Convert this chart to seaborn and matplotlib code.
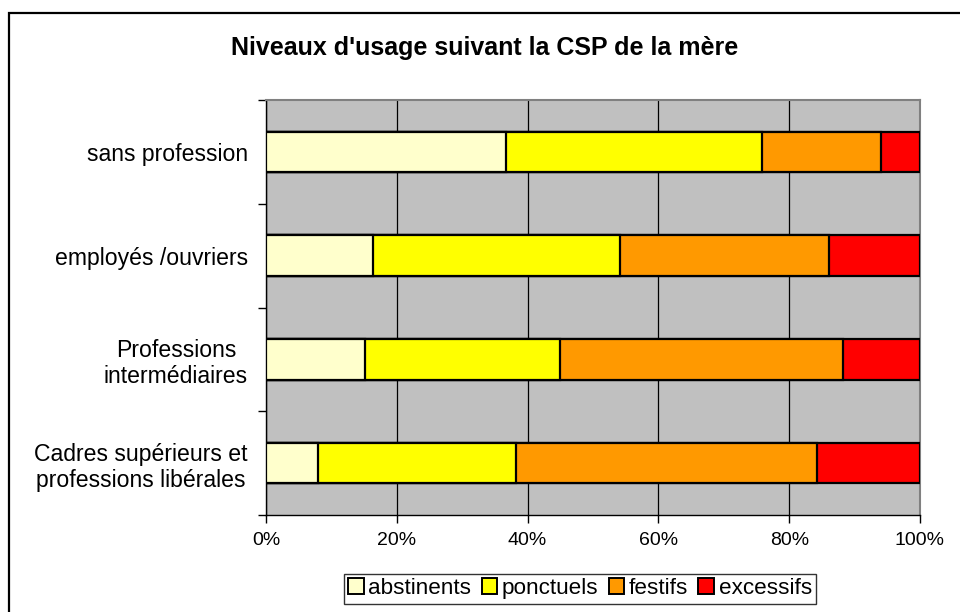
import numpy as np
import pandas as pd
import matplotlib
matplotlib.use("Agg")
import matplotlib.pyplot as plt
import seaborn as sns
from matplotlib.patches import Patch, Rectangle

# Data (share in % per CSP of the mother)
categories = ["sans profession", "employés /ouvriers",
              "Professions\nintermédiaires",
              "Cadres supérieurs et\nprofessions libérales"]
series_names = ["abstinents", "ponctuels", "festifs", "excessifs"]
abstinents = [36.7, 16.4, 15.1, 8.0]
ponctuels = [39.2, 37.7, 29.9, 30.3]
festifs = [18.1, 32.0, 43.2, 45.9]
excessifs = [6.0, 13.9, 11.8, 15.8]
colors = ["#FFFFCC", "#FFFF00", "#FF9900", "#FF0000"]
x_ticks = [0, 20, 40, 60, 80, 100]

sns.set_theme(style="white")
plt.rcParams["font.family"] = ["Liberation Sans", "DejaVu Sans"]
plt.rcParams.update({"text.color": "black", "xtick.color": "black",
                     "ytick.color": "black", "axes.labelcolor": "black"})

df = pd.DataFrame({"CSP": categories, "abstinents": abstinents,
                   "ponctuels": ponctuels, "festifs": festifs,
                   "excessifs": excessifs})
cum = df[series_names].cumsum(axis=1)

fig = plt.figure(figsize=(9.6, 6.12), dpi=100)
ax = fig.add_axes([266 / 960, 1 - 515 / 612, (920 - 266) / 960, (515 - 100) / 612])
ax.set_facecolor("#C0C0C0")

# stacked bars: draw cumulative totals from the last series to the first
for name, col in reversed(list(zip(series_names, colors))):
    sns.barplot(x=cum[name], y=df["CSP"], orient="h", color=col,
                edgecolor="black", linewidth=1.6, width=0.39,
                saturation=1, ax=ax, zorder=3)

ax.set_xlim(0, 100)
ax.set_ylim(len(categories) - 0.5, -0.5)
ax.set_xticks(x_ticks)
ax.set_xticklabels([f"{t}%" for t in x_ticks], fontsize=14)
ax.xaxis.grid(True, color="black", linewidth=0.9, zorder=1)
ax.set_axisbelow(True)
ax.set_xlabel("")
ax.set_ylabel("")

ax.set_yticks(range(len(categories)))
ax.set_yticklabels(categories, fontsize=16.6, ha="right", multialignment="center")
ax.set_yticks(np.arange(-0.5, len(categories), 1), minor=True)
ax.tick_params(axis="y", which="major", left=True, length=0, pad=13)
ax.tick_params(axis="y", which="minor", left=True, length=6, width=1,
               color="black", direction="out")
ax.tick_params(axis="x", which="major", bottom=True, length=6, width=1,
               color="black", direction="out", pad=6)

for side in ["left", "bottom"]:
    ax.spines[side].set_color("black")
    ax.spines[side].set_linewidth(1.0)
for side in ["top", "right"]:
    ax.spines[side].set_color("#808080")
    ax.spines[side].set_linewidth(1.5)

fig.text(0.505, 1 - 48 / 612, "Niveaux d'usage suivant la CSP de la mère",
         ha="center", va="center", fontsize=18, fontweight="bold")

handles = [Patch(facecolor=c, edgecolor="black", linewidth=1.4, label=n)
           for n, c in zip(series_names, colors)]
leg = fig.legend(handles=handles, loc="center", ncol=4,
                 bbox_to_anchor=(580 / 960, 1 - 588.5 / 612),
                 fontsize=16.2, frameon=True, fancybox=False, edgecolor="black",
                 handlelength=0.7, handleheight=0.7, handletextpad=0.2,
                 columnspacing=0.45, borderpad=0.2, borderaxespad=0)
leg.get_frame().set_linewidth(1.0)

# chart border (top/left visible, rest runs off the image)
fig.patches.append(Rectangle((9 / 960, -0.1), 1.2, 1.1 - 12.7 / 612,
                             transform=fig.transFigure, fill=False,
                             edgecolor="black", linewidth=1.6))

fig.savefig("out.png", dpi=100)
